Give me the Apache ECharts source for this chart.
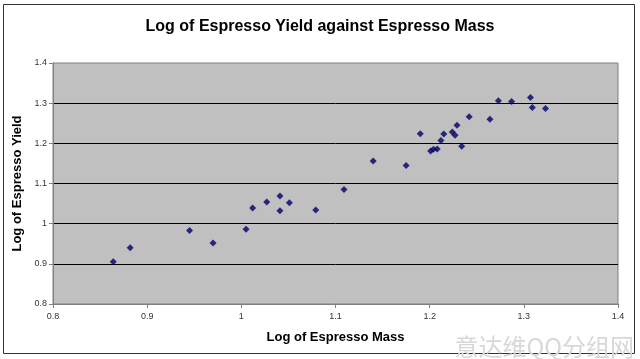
<!DOCTYPE html>
<html><head><meta charset="utf-8">
<script src="https://cdn.jsdelivr.net/npm/echarts@6/dist/echarts.min.js"></script>
<style>html,body{margin:0;padding:0;background:#fff}#c{width:640px;height:359px}</style>
</head><body><div id="c"></div>
<script>
const xMass = [0.864,0.882,0.945,0.970,1.005,1.012,1.027,1.041,1.041,1.051,1.079,1.109,1.140,1.175,1.190,1.201,1.204,1.208,1.212,1.215,1.224,1.227,1.229,1.234,1.242,1.264,1.273,1.287,1.307,1.309,1.323];
const yYield = [0.905,0.940,0.983,0.952,0.986,1.039,1.054,1.069,1.032,1.052,1.034,1.085,1.156,1.145,1.224,1.181,1.185,1.186,1.207,1.223,1.228,1.220,1.245,1.193,1.266,1.260,1.306,1.304,1.314,1.289,1.287];
const xTicks = [0.8,0.9,1,1.1,1.2,1.3,1.4];
const yTicks = [0.8,0.9,1,1.1,1.2,1.3,1.4];
const titleText = 'Log of Espresso Yield against Espresso Mass';
const xName = 'Log of Espresso Mass';
const yName = 'Log of Espresso Yield';

const chart = echarts.init(document.getElementById('c'), null, {renderer:'canvas'});
const font = '"Liberation Sans", Arial, sans-serif';
chart.setOption({
  animation:false,
  backgroundColor:'#fff',
  title:{text:titleText,left:'center',top:14,textStyle:{fontFamily:font,fontSize:16,fontWeight:'bold',color:'#000'}},
  grid:{left:53,top:63,right:22,bottom:55,show:true,backgroundColor:'#c0c0c0',borderColor:'#808080',borderWidth:1},
  xAxis:{type:'value',min:0.8,max:1.4,interval:0.1,name:xName,nameLocation:'middle',nameGap:27,
    nameTextStyle:{fontFamily:font,fontSize:13,fontWeight:'bold',color:'#000'},
    axisLine:{show:true,lineStyle:{color:'#808080'}},axisTick:{show:true,length:4,lineStyle:{color:'#808080'}},
    splitLine:{show:false},
    axisLabel:{fontFamily:font,fontSize:9,color:'#333',margin:8,formatter:v=>String(+v.toFixed(1))}},
  yAxis:{type:'value',min:0.8,max:1.4,interval:0.1,name:yName,nameLocation:'middle',nameGap:29,
    nameTextStyle:{fontFamily:font,fontSize:13,fontWeight:'bold',color:'#000'},
    axisLine:{show:true,lineStyle:{color:'#808080'}},axisTick:{show:true,length:4,lineStyle:{color:'#808080'}},
    splitLine:{show:true,showMaxLine:false,showMinLine:false,lineStyle:{color:'#000',width:1}},
    axisLabel:{fontFamily:font,fontSize:9,color:'#333',margin:6,formatter:v=>String(+v.toFixed(1))}},
  series:[{type:'scatter',data:xMass.map((x,i)=>[x,yYield[i]]),symbol:'diamond',symbolSize:7,
    itemStyle:{color:'#000066'}}],
  graphic:[
    {type:'rect',shape:{x:3.5,y:4.5,width:631,height:349},style:{fill:'none',stroke:'#333',lineWidth:1},silent:true},
    {type:'text',right:6,bottom:0,style:{text:'意达维QQ分组网',font:'24px "Noto Sans CJK SC"',fill:'#d8d8d8'},silent:true}
  ]
});
</script></body></html>
